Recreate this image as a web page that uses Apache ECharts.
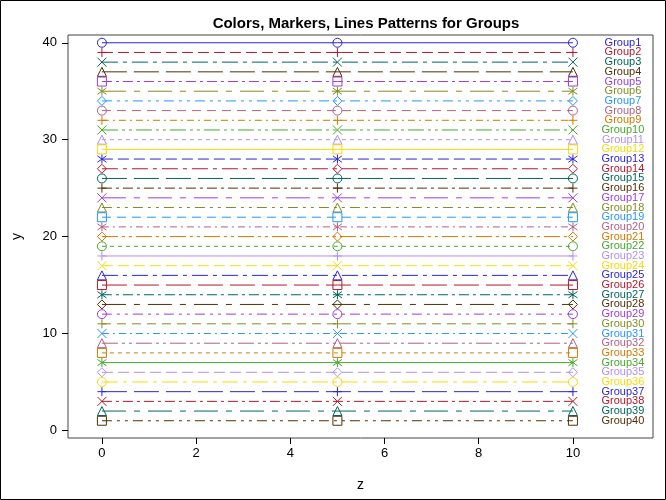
<!DOCTYPE html>
<html>
<head>
<meta charset="utf-8">
<script src="https://cdn.jsdelivr.net/npm/echarts@6/dist/echarts.min.js"></script>
<style>html,body{margin:0;padding:0;background:#fff}#c{width:666px;height:500px}</style>
</head>
<body>
<div id="c"></div>
<script>
// ---- data ----
const groupNames = ['Group1','Group2','Group3','Group4','Group5','Group6','Group7','Group8','Group9','Group10',
  'Group11','Group12','Group13','Group14','Group15','Group16','Group17','Group18','Group19','Group20',
  'Group21','Group22','Group23','Group24','Group25','Group26','Group27','Group28','Group29','Group30',
  'Group31','Group32','Group33','Group34','Group35','Group36','Group37','Group38','Group39','Group40'];
const groupY = [40,39,38,37,36,35,34,33,32,31,30,29,28,27,26,25,24,23,22,21,
  20,19,18,17,16,15,14,13,12,11,10,9,8,7,6,5,4,3,2,1];
const zValues = [0, 5, 10];
const xTicks = [0, 2, 4, 6, 8, 10];
const yTicks = [0, 10, 20, 30, 40];

// ---- styles ----
const colors = ['#2A25D9','#B2182B','#01665E','#543005','#9D3CDB','#7F8E1F','#2597FA','#B26084','#D17800','#47A82A','#B38EF3','#F9DA04'];
const markers = [
  'circle',
  'path://M5,0L5,10M0,5L10,5',
  'path://M0,0L10,10M0,10L10,0',
  'triangle',
  'rect',
  'path://M5,0L5,10M0.8,1.5L9.2,8.5M0.8,8.5L9.2,1.5',
  'diamond'
];
const dashes = [
  'solid',
  [11,5],
  [16,5,4,5],
  [25,7],
  [10,4,3,4],
  [24,8,6,8],
  [10,5,3,5,3,5],
  [9,6],
  [7,4,2,4],
  [16,4,3,4,3,4],
  [4,4]
];

const series = groupNames.map((name, i) => {
  const c = colors[i % colors.length];
  const data = zValues.map((z, j) => {
    const pt = { value: [z, groupY[i]] };
    if (j === zValues.length - 1) {
      pt.label = {
        show: true, formatter: name, position: 'inside', offset: [50, 0],
        align: 'center', verticalAlign: 'middle', color: c,
        fontFamily: 'Liberation Sans, Arial, sans-serif', fontSize: 11
      };
    }
    return pt;
  });
  return {
    name, type: 'line', data,
    symbol: markers[i % markers.length], symbolSize: 9, showAllSymbol: true,
    lineStyle: { color: c, width: 1, type: dashes[i % dashes.length] },
    itemStyle: { color: 'rgba(0,0,0,0)', borderColor: c, borderWidth: 1 },
    label: { show: false },
    emphasis: { disabled: true },
    silent: true
  };
});

const chart = echarts.init(document.getElementById('c'), null, { renderer: 'canvas' });
const font = 'Liberation Sans, Arial, sans-serif';
chart.setOption({
  animation: false,
  backgroundColor: '#fff',
  title: {
    text: 'Colors, Markers, Lines Patterns for Groups',
    left: 361, top: 11, textAlign: 'center',
    textStyle: { fontFamily: font, fontSize: 15, fontWeight: 'bold', color: '#000' }
  },
  graphic: [{ type: 'rect', shape: { x: 0.5, y: 0.5, width: 665, height: 499 }, style: { fill: 'none', stroke: '#000', lineWidth: 1 }, silent: true }],
  grid: { left: 68, right: 13, top: 35, bottom: 62, show: true, borderColor: '#444', borderWidth: 1, backgroundColor: '#fff' },
  xAxis: {
    type: 'value', min: -0.72, max: 11.7,
    name: 'z', nameLocation: 'middle', nameGap: 40,
    nameTextStyle: { fontFamily: font, fontSize: 14, color: '#000' },
    axisLine: { show: false, onZero: false },
    splitLine: { show: false },
    axisTick: { show: true, customValues: xTicks, length: 6, inside: false, lineStyle: { color: '#000' } },
    axisLabel: { customValues: xTicks, fontFamily: font, fontSize: 13, color: '#000', margin: 9 }
  },
  yAxis: {
    type: 'value', min: -0.78, max: 40.8,
    name: 'y', nameLocation: 'middle', nameGap: 44, nameRotate: 90,
    nameTextStyle: { fontFamily: font, fontSize: 14, color: '#000' },
    axisLine: { show: false, onZero: false },
    splitLine: { show: false },
    axisTick: { show: true, customValues: yTicks, length: 6, lineStyle: { color: '#000' } },
    axisLabel: { customValues: yTicks, fontFamily: font, fontSize: 13, color: '#000', margin: 11 }
  },
  series
});
</script>
</body>
</html>
